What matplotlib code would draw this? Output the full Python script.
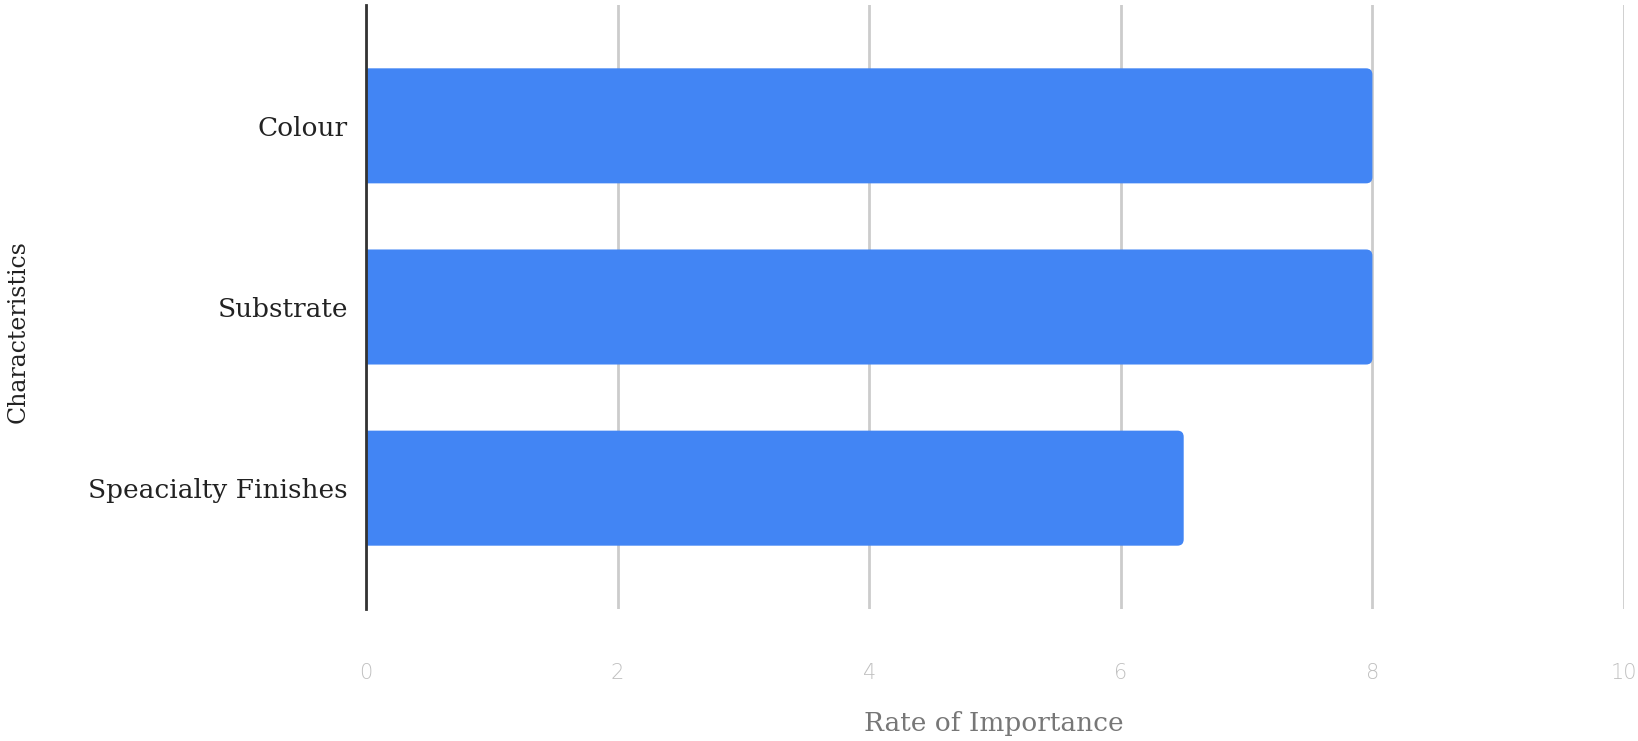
import matplotlib.pyplot as plt
from matplotlib.patches import FancyBboxPatch

categories = ["Colour", "Substrate", "Speacialty Finishes"]
values = [8, 8, 6.5]
xticks = [0, 2, 4, 6, 8, 10]

fig = plt.figure(figsize=(16.38, 7.41), dpi=100)
ax = fig.add_axes([366 / 1638, 1 - 609 / 741, (1624 - 366) / 1638, (609 - 5) / 741])

pos = list(range(len(categories)))[::-1]
bars = ax.barh(pos, values, height=0.635, color="#4285f4", zorder=3)

# swap the plain bars for ones with slightly rounded ends
for b in bars:
    x, y, w, h = b.get_x(), b.get_y(), b.get_width(), b.get_height()
    b.set_visible(False)
    ax.add_patch(FancyBboxPatch((x - 0.2, y), w + 0.2, h,
                                boxstyle="round,pad=0,rounding_size=0.05",
                                mutation_aspect=0.69, facecolor="#4285f4",
                                edgecolor="none", zorder=3))

ax.set_xlim(0, 10)
ax.set_ylim(-0.667, 2.667)
ax.set_xticks(xticks)
ax.set_xticklabels([str(t) for t in xticks], color="#c0c0c0", fontsize=15,
                   family="DejaVu Sans", fontweight="light")
ax.set_yticks(pos)
ax.set_yticklabels(categories, fontsize=19, family="DejaVu Serif", color="#222222")
ax.tick_params(axis="both", length=0)
ax.tick_params(axis="x", pad=39)
ax.tick_params(axis="y", pad=13)

ax.grid(axis="x", color="#cccccc", linewidth=2, zorder=0)
for s in ["top", "right", "bottom"]:
    ax.spines[s].set_visible(False)
ax.spines["left"].set_color("#333333")
ax.spines["left"].set_linewidth(2)
ax.spines["left"].set_zorder(4)

fig.text(994 / 1638, 1 - 723 / 741, "Rate of Importance", ha="center", va="center",
         fontsize=19, family="DejaVu Serif", color="#777777")
fig.text(18 / 1638, 1 - 332 / 741, "Characteristics", ha="center", va="center",
         rotation=90, fontsize=17, family="DejaVu Serif", color="#222222")

fig.savefig("out.png", dpi=100)
